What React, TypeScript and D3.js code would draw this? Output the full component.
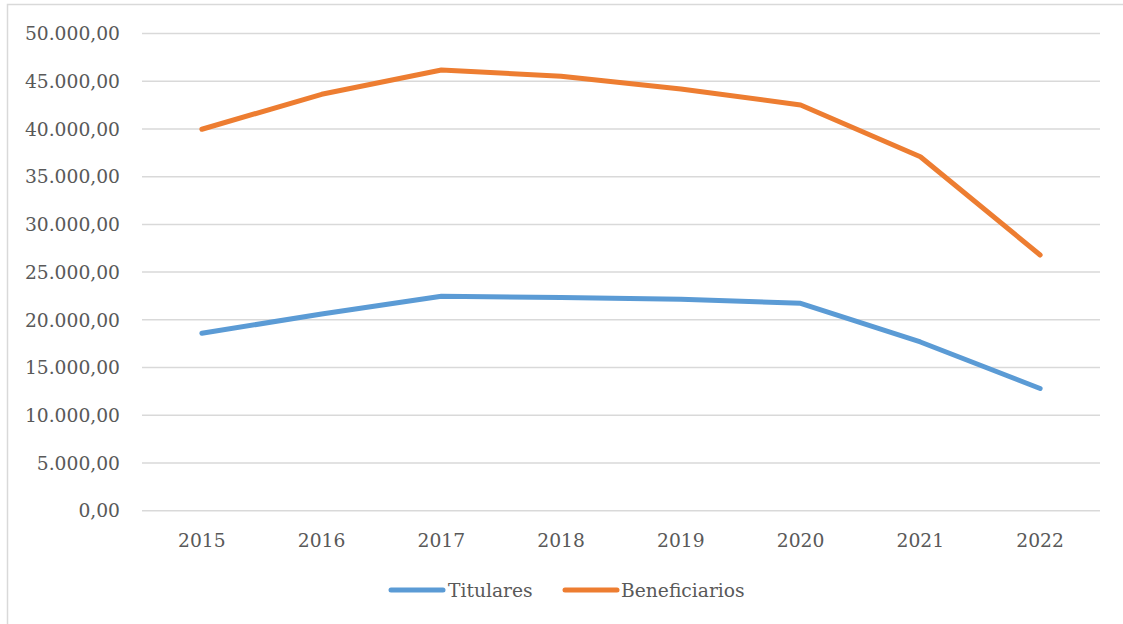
import React from "react";
import * as d3 from "d3";

const years = ["2015", "2016", "2017", "2018", "2019", "2020", "2021", "2022"];
const titulares = [18590, 20610, 22470, 22340, 22150, 21730, 17680, 12800];
const beneficiarios = [39970, 43630, 46170, 45520, 44190, 42510, 37090, 26790];
const yTicks = [0, 5000, 10000, 15000, 20000, 25000, 30000, 35000, 40000, 45000, 50000];
const seriesNames = ["Titulares", "Beneficiarios"];
const seriesColors = ["#5B9BD5", "#ED7D31"];

const W = 1123;
const H = 624;
const FONT = "DejaVu Serif, serif";
const TXT = "#595959";

const fmt = (v: number) => {
  const s = Math.round(v).toString().replace(/\B(?=(\d{3})+(?!\d))/g, ".");
  return s + ",00";
};

export default function App() {
  const x = d3.scaleBand<string>().domain(years).range([142, 1100]);
  const y = d3.scaleLinear().domain([0, 50000]).range([510.7, 33.5]);
  const line = d3
    .line<number>()
    .x((_, i) => (x(years[i]) as number) + x.bandwidth() / 2)
    .y((d) => y(d));
  const data = [titulares, beneficiarios];

  const legendItems = [
    { x1: 391, x2: 443, tx: 448 },
    { x1: 565, x2: 617, tx: 621 },
  ];
  const ts = { fontFamily: FONT, fontSize: "18.7px", fill: TXT } as React.CSSProperties;

  return (
    <svg
      width={W}
      height={H}
      style={{ position: "absolute", left: 0, top: 0, background: "#fff" }}
    >
      <rect x={7.5} y={4.5} width={W + 10} height={H + 10} fill="#fff" stroke="#d9d9d9" strokeWidth={1.5} />
      {yTicks.map((t) => (
        <g key={t}>
          <line x1={142} x2={1100} y1={y(t)} y2={y(t)} stroke="#d9d9d9" strokeWidth={1.5} />
          <text x={120} y={y(t)} dy="0.36em" textAnchor="end" style={ts}>
            {fmt(t)}
          </text>
        </g>
      ))}
      {years.map((yr) => (
        <text
          key={yr}
          x={(x(yr) as number) + x.bandwidth() / 2}
          y={547}
          textAnchor="middle"
          style={ts}
        >
          {yr}
        </text>
      ))}
      {data.map((d, i) => (
        <path
          key={i}
          d={line(d) || ""}
          fill="none"
          stroke={seriesColors[i]}
          strokeWidth={5}
          strokeLinecap="round"
          strokeLinejoin="round"
        />
      ))}
      {legendItems.map((l, i) => (
        <g key={i}>
          <line x1={l.x1} x2={l.x2} y1={590} y2={590} stroke={seriesColors[i]} strokeWidth={5} strokeLinecap="round" />
          <text x={l.tx} y={590} dy="0.36em" style={ts}>
            {seriesNames[i]}
          </text>
        </g>
      ))}
    </svg>
  );
}
